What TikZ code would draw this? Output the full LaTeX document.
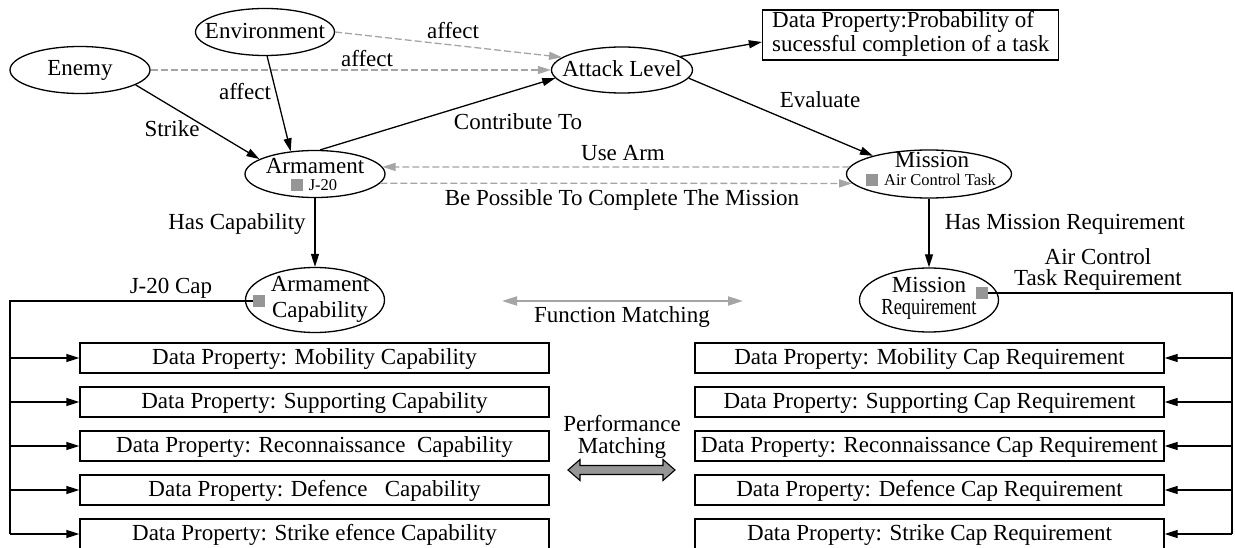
\documentclass[tikz,border=0pt]{standalone}
\usepackage{fontspec}
\setmainfont{Liberation Serif}
\usetikzlibrary{arrows.meta,shapes.geometric,calc}
\definecolor{dgray}{RGB}{165,165,165}
\definecolor{sqgray}{RGB}{150,150,150}
\definecolor{pmgray}{RGB}{150,150,150}
\begin{document}
\begin{tikzpicture}[x=1pt,y=-1pt,
  font=\fontsize{23}{25}\selectfont,
  ell/.style={ellipse,draw,line width=1.3pt,inner sep=0pt},
  txt/.style={inner sep=0pt,anchor=base},
  small/.style={inner sep=0pt,anchor=base,font=\fontsize{16.5}{18}\selectfont},
  databox/.style={rectangle,draw,line width=1.3pt,minimum width=469pt,minimum height=30pt,
    inner sep=0pt,text height=16pt,text depth=4pt},
  conn/.style={line width=1.3pt,-{Triangle[length=13pt,width=8pt]}},
  gconn/.style={line width=1.3pt,draw=dgray,dash pattern=on 7pt off 3pt,
    -{Triangle[length=13pt,width=8pt,fill=dgray,color=dgray]}},
  sq/.style={rectangle,fill=sqgray,minimum size=12pt,inner sep=0pt},
  busline/.style={line width=1.3pt},
]
\useasboundingbox (0,0) rectangle (1235,548);
\clip (0,0) rectangle (1235,548);

% ellipses
\node[ell,minimum width=140pt,minimum height=47pt] (enemy) at (80,70) {};
\node[txt] (enemyT) at (80,76) {Enemy};
\node[ell,minimum width=139pt,minimum height=47pt] (env) at (265,32) {};
\node[txt] (envT) at (265,39) {Environment};
\node[ell,minimum width=141pt,minimum height=46pt] (attack) at (622,70) {};
\node[txt] (attackT) at (622,77) {Attack Level};
\node[ell,minimum width=140pt,minimum height=47pt] (armament) at (315,174) {};
\node[txt] (armamentT) at (315,174) {Armament};
\node[sq] (armSq) at (297,185) {};
\node[small] (armJ) at (323,191) {J-20};
\node[ell,minimum width=165pt,minimum height=48pt] (mission) at (929,174) {};
\node[txt] (missionT) at (932,168) {Mission};
\node[sq] (misSq) at (872,180) {};
\node[small] (misAC) at (940,186) {Air Control Task};
\node[ell,minimum width=139pt,minimum height=65pt] (armcap) at (315,300) {};
\node[txt] (armcapT1) at (320,292) {Armament};
\node[txt] (armcapT2) at (320,317) {Capability};
\node[sq] (sqL) at (259,301) {};
\node[ell,minimum width=139pt,minimum height=64pt] (missreq) at (929,300) {};
\node[txt] (missreqT1) at (929,293) {Mission};
\node[txt] (missreqT2) at (929,315) {\scalebox{0.8}[1]{Requirement}};
\node[sq] (sqR) at (982,293) {};

% top-right data property box
\node[rectangle,draw,line width=1.3pt,minimum width=296pt,minimum height=50pt,inner sep=0pt] (DP) at (910.5,35) {};
\node[inner sep=0pt,anchor=base west] (DPT1) at (772,28) {Data Property:Probability of};
\node[inner sep=0pt,anchor=base west] (DPT2) at (772,52) {sucessful completion of a task};

% data property boxes
\node[databox] (lb1) at (314.5,358) {Data Property: Mobility Capability};
\node[databox] (lb2) at (314.5,402) {Data Property: Supporting Capability};
\node[databox] (lb3) at (314.5,446) {Data Property: Reconnaissance\ \ Capability};
\node[databox] (lb4) at (314.5,490) {Data Property: Defence\ \ \ Capability};
\node[databox] (lb5) at (314.5,534) {Data Property: Strike efence Capability};
\node[databox] (rb1) at (929.5,358) {Data Property: Mobility Cap Requirement};
\node[databox] (rb2) at (929.5,402) {Data Property: Supporting Cap Requirement};
\node[databox] (rb3) at (929.5,446) {Data Property: Reconnaissance Cap Requirement};
\node[databox] (rb4) at (929.5,490) {Data Property: Defence Cap Requirement};
\node[databox] (rb5) at (929.5,534) {Data Property: Strike Cap Requirement};

% labels
\node[txt] (l1) at (453,39) {affect};
\node[txt] (l2) at (367,67) {affect};
\node[txt] (l3) at (245,100) {affect};
\node[txt] (l4) at (172,137) {Strike};
\node[txt] (l5) at (518,130) {Contribute To};
\node[txt] (l6) at (820,108) {Evaluate};
\node[txt] (l7) at (623,161) {Use Arm};
\node[txt] (l8) at (622,206) {Be Possible To Complete The Mission};
\node[txt] (l9) at (237,230) {Has Capability};
\node[txt] (l10) at (1065,230) {Has Mission Requirement};
\node[txt] (l11) at (171,294) {J-20 Cap};
\node[txt] (l12a) at (1098,265) {Air Control};
\node[txt] (l12b) at (1098,286) {Task Requirement};
\node[txt] (l13) at (622,323) {Function Matching};
\node[txt] (l14a) at (622,431) {Performance};
\node[txt] (l14b) at (622,453) {Matching};

% connectors
\draw[gconn] (env.east) -- (attack.168);
\draw[gconn] (enemy.east) -- (attack.west);
\draw[conn] (env.-85) -- (armament.137);
\draw[conn] (enemy.-15) -- (armament.165);
\draw[conn] (armament.78) -- (attack.187);
\draw[conn] (attack.13) -- ($(DP.west)+(0,7)$);
\draw[conn] (attack.-7) -- (mission.162);
\draw[gconn] (mission.175) -- (armament.6);
\draw[gconn] (armament.-8) -- (mission.-173);
\draw[conn] (armament.south) -- (armcap.north);
\draw[conn] (mission.south) -- (missreq.north);

% buses
\coordinate (busL) at (10,301);
\coordinate (busR) at (1232,293);
\draw[busline] (sqL.west) -- (busL) -- (busL |- lb5.west);
\draw[busline] (sqR.east) -- (busR) -- (busR |- rb5.east);
\foreach \i in {1,...,5}{
  \draw[conn] (busL |- lb\i.west) -- (lb\i.west);
  \draw[conn] (busR |- rb\i.east) -- (rb\i.east);
}

% matching arrows
\coordinate (fmL) at (502,301);
\coordinate (fmR) at (743,301);
\draw[line width=2pt,draw=dgray,{Triangle[length=15pt,width=9pt,fill=dgray,color=dgray]}-{Triangle[length=15pt,width=9pt,fill=dgray,color=dgray]}] (fmL) -- (fmR);
\coordinate (pm) at (621.5,470);
\draw[line width=1.1pt,fill=pmgray,line join=miter]
  (568,470) -- (580,459.5) -- (580,465.5) -- (663,465.5) -- (663,459.5) -- (675,470)
  -- (663,480.5) -- (663,474.5) -- (580,474.5) -- (580,480.5) -- cycle;
\end{tikzpicture}
\end{document}
